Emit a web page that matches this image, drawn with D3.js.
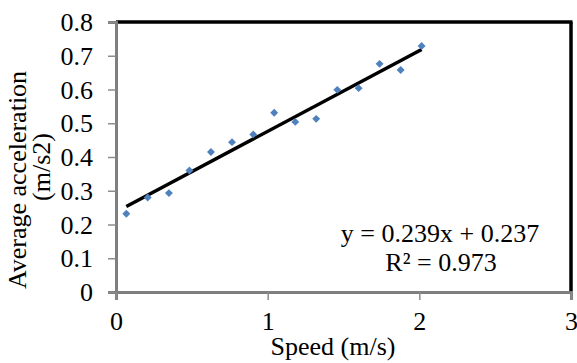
<!DOCTYPE html>
<html>
<head>
<meta charset="utf-8">
<script src="https://cdn.jsdelivr.net/npm/d3@7"></script>
<style>
  body { margin: 0; background: #fff; }
</style>
</head>
<body>
<svg id="chart" width="577" height="363"></svg>
<script>
// measured points (speed m/s, avg acceleration m/s2)
const speed = [0.068, 0.209, 0.349, 0.484, 0.626, 0.765, 0.905, 1.043, 1.182, 1.320, 1.459, 1.600, 1.738, 1.877, 2.015];
const accel = [0.232, 0.280, 0.293, 0.360, 0.415, 0.444, 0.467, 0.531, 0.504, 0.513, 0.599, 0.604, 0.676, 0.658, 0.729];
const xTicks = [0, 1, 2, 3];
const yTicks = [0, 0.1, 0.2, 0.3, 0.4, 0.5, 0.6, 0.7, 0.8];
const slope = 0.239, intercept = 0.237;

const FONT = '"Liberation Serif", "Times New Roman", serif';
const FS = 26;

const svg = d3.select('#chart').style('font-family', FONT);
const m = { left: 116, right: 6, top: 22, bottom: 71 };
const W = 577 - m.left - m.right;
const H = 363 - m.top - m.bottom;

const x = d3.scaleLinear().domain([0, 3]).range([0, W]);
const y = d3.scaleLinear().domain([0, 0.8]).range([H, 0]);

const g = svg.append('g').attr('transform', `translate(${m.left},${m.top})`);

// black frame on top and right
g.append('line').attr('x1', 0).attr('x2', W + 1.5).attr('y1', 0).attr('y2', 0)
  .attr('stroke', '#000').attr('stroke-width', 3.5);
g.append('line').attr('x1', W).attr('x2', W).attr('y1', 0).attr('y2', H)
  .attr('stroke', '#000').attr('stroke-width', 3.5);

// axes
const yAxis = g.append('g')
  .call(d3.axisLeft(y).tickValues(yTicks).tickSize(8).tickPadding(15)
    .tickFormat(d => d === 0 ? '0' : d3.format('.1f')(d)));
const xAxis = g.append('g').attr('transform', `translate(0,${H})`)
  .call(d3.axisBottom(x).tickValues(xTicks).tickSize(8).tickPadding(12).tickFormat(d3.format('d')));

[yAxis, xAxis].forEach(a => {
  a.attr('font-family', null).attr('font-size', null);
  a.select('.domain').attr('stroke', '#7f7f7f').attr('stroke-width', 3);
  a.selectAll('.tick line').attr('stroke', '#8c8c8c').attr('stroke-width', 1.5);
  a.selectAll('text').style('font-size', FS + 'px').style('font-family', FONT).attr('fill', '#000');
});
yAxis.selectAll('text').attr('dy', '0.33em');
xAxis.selectAll('text').attr('dy', '0.7em');

// trendline
const xmin = d3.min(speed), xmax = d3.max(speed);
g.append('line')
  .attr('x1', x(xmin)).attr('y1', y(slope * xmin + intercept))
  .attr('x2', x(xmax)).attr('y2', y(slope * xmax + intercept))
  .attr('stroke', '#000').attr('stroke-width', 3.5);

// points
const pts = speed.map((s, i) => ({ s, a: accel[i] }));
g.append('g').selectAll('path').data(pts).enter().append('path')
  .attr('d', d3.symbol(d3.symbolDiamond2, 40))
  .attr('transform', d => `translate(${x(d.s)},${y(d.a)})`)
  .attr('fill', '#4f81bd');

// equation
svg.append('text').attr('x', 440).attr('y', 242).attr('text-anchor', 'middle')
  .style('font-size', FS + 'px').text('y = 0.239x + 0.237');
svg.append('text').attr('x', 441).attr('y', 271).attr('text-anchor', 'middle')
  .style('font-size', FS + 'px').text('R² = 0.973');

// axis titles
svg.append('text').attr('x', 333).attr('y', 355).attr('text-anchor', 'middle')
  .style('font-size', FS + 'px').text('Speed (m/s)');
const yt = svg.append('text').attr('transform', 'rotate(-90)')
  .attr('text-anchor', 'middle').style('font-size', FS + 'px');
yt.append('tspan').attr('x', -180).attr('y', 26).text('Average acceleration');
yt.append('tspan').attr('x', -167).attr('y', 50).text('(m/s2)');
</script>
</body>
</html>
